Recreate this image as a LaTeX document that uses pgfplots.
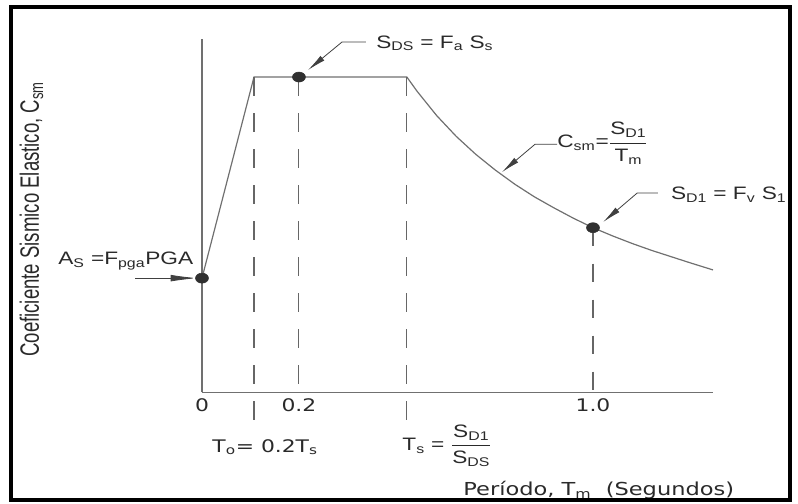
\documentclass[border=0pt]{standalone}
\usepackage{pgfplots}
\pgfplotsset{compat=1.18}
\usetikzlibrary{arrows.meta}
\usepackage{fontspec}
\setmainfont{Liberation Sans}
\newfontfamily\annfont[FakeStretch=1.26]{Liberation Sans}
\newfontfamily\verfont[FakeStretch=1.26]{DejaVu Sans}
\newfontfamily\ylabfont[FakeStretch=0.7]{Liberation Sans}
\definecolor{curvegray}{HTML}{707070}
\definecolor{dotgray}{HTML}{303030}
\definecolor{leadgray}{HTML}{404040}
\definecolor{txt}{HTML}{2A2A2A}
\begin{document}
\begin{tikzpicture}
\begin{axis}[
  scale only axis, width=383.25pt, height=264.75pt,
  xmin=0, xmax=1.307, ymin=0, ymax=1.12,
  axis x line=bottom, axis y line=left,
  axis line style={-, draw=curvegray, line width=0.9pt},
  xtick={0,0.248,1}, xticklabels={0,0.2,1.0},
  ytick=\empty, major tick length=0,
  xticklabel style={font=\verfont\fontsize{13}{15}\selectfont, text=txt, anchor=north, yshift=-1pt},
  clip=false,
]
% spectrum
\addplot[curvegray, line width=0.9pt] coordinates {
 (0,0.362) (0.133,1.000) (0.524,1.000) (0.55,0.955) (0.60,0.878) (0.65,0.812)
 (0.70,0.755) (0.75,0.705) (0.80,0.660) (0.85,0.620) (0.90,0.585) (0.95,0.552)
 (1.00,0.522) (1.05,0.496) (1.10,0.472) (1.15,0.450) (1.20,0.430) (1.25,0.410) (1.307,0.388)};
% dashed verticals
\addplot[leadgray!80, line width=0.8pt, dash pattern=on 14pt off 13pt] coordinates {(0.133,1) (0.133,-0.114)};
\addplot[leadgray!80, line width=0.8pt, dash pattern=on 14pt off 13pt] coordinates {(0.248,1) (0.248,0)};
\addplot[leadgray!80, line width=0.8pt, dash pattern=on 14pt off 13pt] coordinates {(0.524,1) (0.524,-0.114)};
\addplot[leadgray!80, line width=0.8pt, dash pattern=on 14pt off 13pt] coordinates {(1.0,0.522) (1.0,0)};
% dots
\addplot[only marks, mark=*, mark size=3.75pt, mark options={fill=dotgray, draw=dotgray, xscale=1.3}] coordinates {(0,0.362) (0.248,1) (1.0,0.522)};
% leaders
\draw[leadgray, line width=0.6pt, -{Latex[length=14pt,width=4.5pt]}] (axis cs:0.419,1.111) -- (axis cs:0.358,1.111) -- (axis cs:0.271,1.022);
\draw[leadgray, line width=0.6pt, -{Latex[length=14pt,width=4.5pt]}] (axis cs:0.908,0.787) -- (axis cs:0.852,0.787) -- (axis cs:0.767,0.698);
\draw[leadgray, line width=0.6pt, -{Latex[length=14pt,width=4.5pt]}] (axis cs:1.166,0.632) -- (axis cs:1.113,0.632) -- (axis cs:1.026,0.540);
\draw[leadgray, line width=0.6pt, -{Latex[length=20pt,width=5pt]}] (axis cs:-0.171,0.362) -- (axis cs:-0.012,0.362);
% labels
\node[anchor=base west, inner sep=0, text=txt, font=\annfont\fontsize{13.5}{16}\selectfont] at (axis cs:0.445,1.092) {S\textsubscript{DS} = F\textsubscript{a} S\textsubscript{s}};
\node[anchor=base west, inner sep=0, text=txt, font=\annfont\fontsize{13.5}{16}\selectfont] at (axis cs:0.908,0.775) {C\textsubscript{sm}=$\displaystyle\frac{\mbox{S\textsubscript{D1}}}{\mbox{T\textsubscript{m}}}$};
\node[anchor=base west, inner sep=0, text=txt, font=\annfont\fontsize{13.5}{16}\selectfont] at (axis cs:1.199,0.610) {S\textsubscript{D1} = F\textsubscript{v} S\textsubscript{1}};
\node[anchor=base west, inner sep=0, text=txt, font=\annfont\fontsize{13.5}{16}\selectfont] at (axis cs:-0.368,0.406) {A\textsubscript{S} =F\textsubscript{pga}PGA};
\node[anchor=base west, inner sep=0, text=txt, font=\verfont\fontsize{13}{16}\selectfont] at (axis cs:0.026,-0.190) {T\textsubscript{o}= 0.2T\textsubscript{s}};
\node[anchor=base west, inner sep=0, text=txt, font=\annfont\fontsize{13.5}{16}\selectfont] at (axis cs:0.512,-0.184) {T\textsubscript{s} = $\displaystyle\frac{\mbox{S\textsubscript{D1}}}{\mbox{S\textsubscript{DS}}}$};
\node[anchor=base west, inner sep=0, text=txt, font=\verfont\fontsize{13.4}{16}\selectfont] at (axis cs:0.668,-0.327) {Período, T\textsubscript{m}\ \ (Segundos)};
\node[rotate=90, anchor=base, inner sep=0, text=txt, font=\ylabfont\fontsize{19.9}{22}\selectfont] at (axis cs:-0.417,0.549) {Coeficiente Sismico Elastico, C\textsubscript{sm}};
% frame and canvas
\draw[black, line width=3pt] (axis cs:-0.4885,-0.343) rectangle (axis cs:1.504,1.222);
\path (axis cs:-0.5166,-0.3524) rectangle (axis cs:1.5243,1.2444);
\end{axis}
\end{tikzpicture}
\end{document}
